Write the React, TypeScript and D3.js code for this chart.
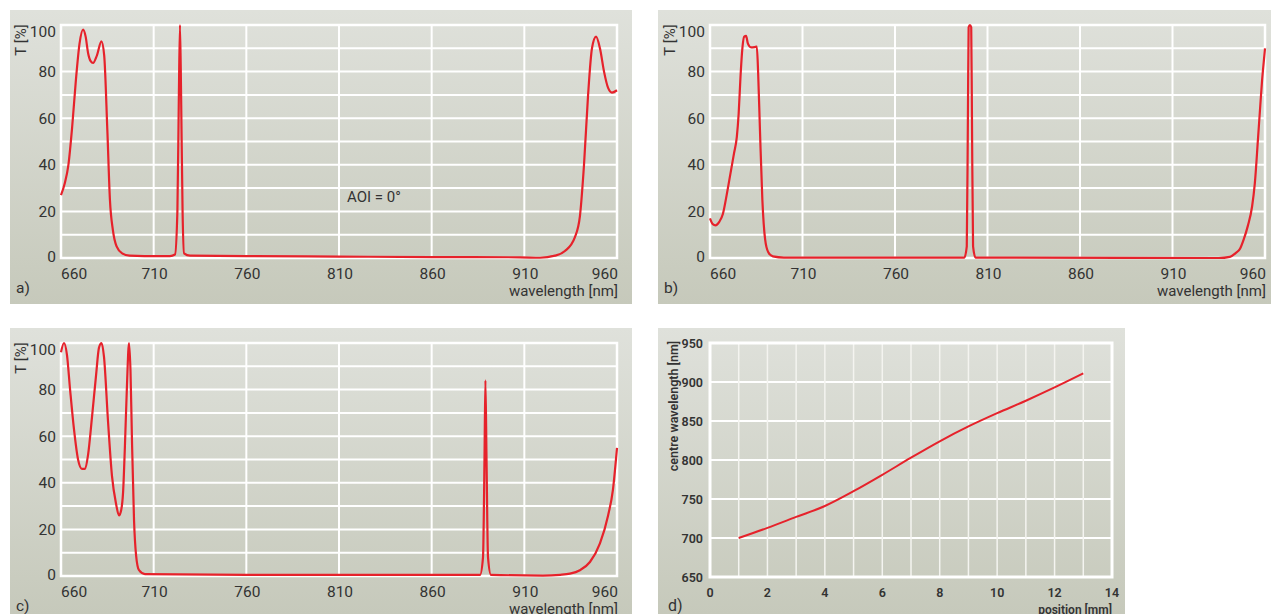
import React from "react";
import * as d3 from "d3";

// ---------- DATA ----------
const wlTicks = [660, 710, 760, 810, 860, 910, 960];
const tTicks = [0, 20, 40, 60, 80, 100];
const tGrid = [10, 20, 30, 40, 50, 60, 70, 80, 90];

// panel a) AOI = 0°
const wlA = [660, 662, 664, 666, 668, 670, 671.9, 673.3, 674.6, 676, 677.3, 679.4, 681.8, 683.3, 685, 686.4, 688, 690, 693, 697, 705, 718.8, 721.5, 722.8, 723.6, 724.2, 724.8, 725.6, 726.4, 729.6, 760, 810, 860, 907.7, 918.5, 926.5, 931.9, 937.3, 940, 942.2, 944.4, 946.5, 948.7, 950.8, 953, 955.2, 957.3, 960];
const tA = [27, 32, 40, 56, 76, 92, 98, 95, 88, 84.5, 83.7, 87, 93, 87, 55, 25, 12, 5, 2, 1, 0.8, 0.8, 1.5, 20, 70, 100, 70, 20, 2, 1, 0.8, 0.6, 0.4, 0.3, 0.1, 1, 3, 9, 18, 40, 70, 90, 95, 90, 80, 73, 71, 72];

// panel b)
const wlB = [660, 661.5, 663, 665, 667, 669, 671, 673, 674.5, 675.5, 676.5, 677.5, 678.5, 679.5, 680.5, 682.2, 684, 685.3, 686, 687, 688.3, 689.8, 691.5, 694, 700, 797.5, 798.8, 799.4, 799.8, 800.5, 801.2, 801.6, 802.2, 803.5, 935, 941, 944, 946.5, 948.5, 950.8, 953, 954.5, 956.2, 957.5, 958.4, 959.3, 960];
const tB = [17, 14.5, 14, 15.5, 19, 27, 36, 45, 52, 62, 78, 90, 95, 95.3, 92, 90.4, 90.5, 90.7, 80, 55, 25, 8, 2.5, 0.7, 0.2, 0.2, 5, 60, 99, 100, 99, 60, 5, 0.2, 0, 0.5, 2, 4, 8, 14, 22, 32, 51, 66, 76, 84, 90];

// panel c)
const wlC = [660, 661.6, 663.2, 664.9, 667, 669.2, 671.3, 673, 674.6, 676.7, 678.9, 680.5, 681.9, 683.2, 685.4, 687.5, 689.7, 691.3, 692.4, 693.5, 694.5, 695.6, 696.7, 697.5, 698.3, 699.4, 700.5, 702.1, 705.3, 760, 860, 886.1, 887.7, 888.5, 889, 889.6, 890.4, 892, 920, 929.3, 934.6, 940, 945.4, 950.8, 955.2, 957.8, 960];
const tC = [96, 100, 95, 80, 63, 50, 46, 46, 52, 68, 86, 98, 100, 94, 66, 43, 31, 26, 28, 36, 56, 82, 100, 88, 58, 24, 9, 2.5, 0.8, 0.5, 0.5, 0.5, 8, 50, 84, 50, 8, 0.5, 0.2, 0.5, 1, 2.5, 6, 14, 26, 37, 55];

// panel d)
const posD = [1, 2, 3, 4, 5, 6, 7, 8, 9, 10, 11, 12, 13];
const cwD = [700, 713, 727, 741, 760, 781, 803, 824, 843, 860, 876, 893, 911];
const posTicks = [0, 2, 4, 6, 8, 10, 12, 14];
const posGrid = [1, 2, 3, 4, 5, 6, 7, 8, 9, 10, 11, 12, 13];
const cwTicks = [650, 700, 750, 800, 850, 900, 950];

const RED = "#e6222b";
const FONT = "Roboto, 'Open Sans', sans-serif";
const TXT = "#333";

type SpecProps = {
  id: string;
  box: [number, number, number, number];
  plot: [number, number, number, number];
  wl: number[];
  t: number[];
  letter: string;
  note?: string;
};

function Background({ id, box }: { id: string; box: [number, number, number, number] }) {
  const [x0, y0, x1, y1] = box;
  return (
    <g>
      <defs>
        <linearGradient id={id} x1="0" y1="0" x2="0" y2="1">
          <stop offset="0" stopColor="#dfe1db" />
          <stop offset="1" stopColor="#c6c9bb" />
        </linearGradient>
      </defs>
      <rect x={x0} y={y0} width={x1 - x0} height={y1 - y0} fill={`url(#${id})`} />
    </g>
  );
}

function Spectrum({ id, box, plot, wl, t, letter, note }: SpecProps) {
  const [px0, py0, px1, py1] = plot;
  const x = d3.scaleLinear().domain([660, 960]).range([px0, px1]);
  const y = d3.scaleLinear().domain([0, 100]).range([py1, py0]);
  const pts = wl.map((w, i) => [w, t[i]] as [number, number]);
  const line = d3
    .line<[number, number]>()
    .x((d) => x(d[0]))
    .y((d) => y(d[1]))
    .curve(d3.curveMonotoneX);
  return (
    <g>
      <Background id={id} box={box} />
      {tGrid.map((v) => (
        <line key={"h" + v} x1={px0} x2={px1} y1={y(v)} y2={y(v)} stroke="#fff" strokeWidth={2} />
      ))}
      {wlTicks.slice(1, -1).map((v) => (
        <line key={"v" + v} x1={x(v)} x2={x(v)} y1={py0} y2={py1} stroke="#fff" strokeWidth={2} />
      ))}
      <rect x={px0} y={py0} width={px1 - px0} height={py1 - py0} fill="none" stroke="#fff" strokeWidth={2.5} />
      <path d={line(pts) || ""} fill="none" stroke={RED} strokeWidth={2.2} strokeLinejoin="round" />
      {tTicks.map((v) => {
        const base = Math.min(Math.max(y(v) + 5.5, py0 + 11.5), py1 + 3.5);
        return (
          <text key={"yt" + v} x={px0 - 5} y={base} textAnchor="end" fontSize={15.5} fill={TXT} fontFamily={FONT}>
            {v}
          </text>
        );
      })}
      {wlTicks.map((v, i) => (
        <text
          key={"xt" + v}
          x={i === 0 ? px0 : i === wlTicks.length - 1 ? px1 + 1 : x(v) + 1}
          y={py1 + 20.5}
          textAnchor={i === 0 ? "start" : i === wlTicks.length - 1 ? "end" : "middle"}
          fontSize={15.5}
          fill={TXT}
          fontFamily={FONT}
        >
          {v}
        </text>
      ))}
      <text x={px1 + 1} y={py1 + 38} textAnchor="end" fontSize={15} fill={TXT} fontFamily={FONT}>
        wavelength [nm]
      </text>
      <text
        transform={`translate(${px0 - 35},${py0 + 15}) rotate(-90)`}
        textAnchor="middle"
        fontSize={15}
        fill={TXT}
        fontFamily={FONT}
      >
        T [%]
      </text>
      <text x={box[0] + 6} y={py1 + 35} fontSize={15.5} fill={TXT} fontFamily={FONT}>
        {letter}
      </text>
      {note && (
        <text x={x(810) + 8} y={y(24)} fontSize={15} fill={TXT} fontFamily={FONT}>
          {note}
        </text>
      )}
    </g>
  );
}

function PositionPanel() {
  const box: [number, number, number, number] = [658, 328, 1125, 614];
  const [px0, py0, px1, py1] = [710, 343, 1112, 577];
  const x = d3.scaleLinear().domain([0, 14]).range([px0, px1]);
  const y = d3.scaleLinear().domain([650, 950]).range([py1, py0]);
  const line = d3
    .line<number>()
    .x((d) => x(d))
    .y((_, i) => y(cwD[i]))
    .curve(d3.curveMonotoneX);
  return (
    <g>
      <Background id="bgD" box={box} />
      {cwTicks.slice(1, -1).map((v) => (
        <line key={"h" + v} x1={px0} x2={px1} y1={y(v)} y2={y(v)} stroke="#fff" strokeWidth={1.8} />
      ))}
      {posGrid.map((v) => (
        <line key={"v" + v} x1={x(v)} x2={x(v)} y1={py0} y2={py1} stroke="#f4f4f0" strokeWidth={1.5} />
      ))}
      <rect x={px0} y={py0} width={px1 - px0} height={py1 - py0} fill="none" stroke="#fff" strokeWidth={3} />
      <path d={line(posD) || ""} fill="none" stroke={RED} strokeWidth={2} />
      {cwTicks.map((v) => (
        <text key={"yt" + v} x={px0 - 7} y={y(v) + 4.5} textAnchor="end" fontSize={12.5} fontWeight={600} fill={TXT} fontFamily={FONT}>
          {v}
        </text>
      ))}
      {posTicks.map((v) => (
        <text key={"xt" + v} x={x(v)} y={py1 + 20} textAnchor="middle" fontSize={12.5} fontWeight={600} fill={TXT} fontFamily={FONT}>
          {v}
        </text>
      ))}
      <text x={px1} y={py1 + 37} textAnchor="end" fontSize={12} fontWeight={600} fill={TXT} fontFamily={FONT}>
        position [mm]
      </text>
      <text
        transform={`translate(${px0 - 32},${406}) rotate(-90)`}
        textAnchor="middle"
        fontSize={12.5}
        fontWeight={600}
        fill={TXT}
        fontFamily={FONT}
      >
        centre wavelength [nm]
      </text>
      <text x={668} y={611} fontSize={16} fill={TXT} fontFamily={FONT}>
        d)
      </text>
    </g>
  );
}

export default function App() {
  return (
    <svg
      width={1271}
      height={614}
      style={{ position: "absolute", left: 0, top: 0, background: "#fff" }}
    >
      <Spectrum id="bgA" box={[10, 10, 632, 304]} plot={[61, 25, 617, 258]} wl={wlA} t={tA} letter="a)" note="AOI = 0°" />
      <Spectrum id="bgB" box={[658, 10, 1271, 304]} plot={[710, 25, 1265, 258]} wl={wlB} t={tB} letter="b)" />
      <Spectrum id="bgC" box={[10, 328, 632, 614]} plot={[61, 343, 617, 576]} wl={wlC} t={tC} letter="c)" />
      <PositionPanel />
    </svg>
  );
}
